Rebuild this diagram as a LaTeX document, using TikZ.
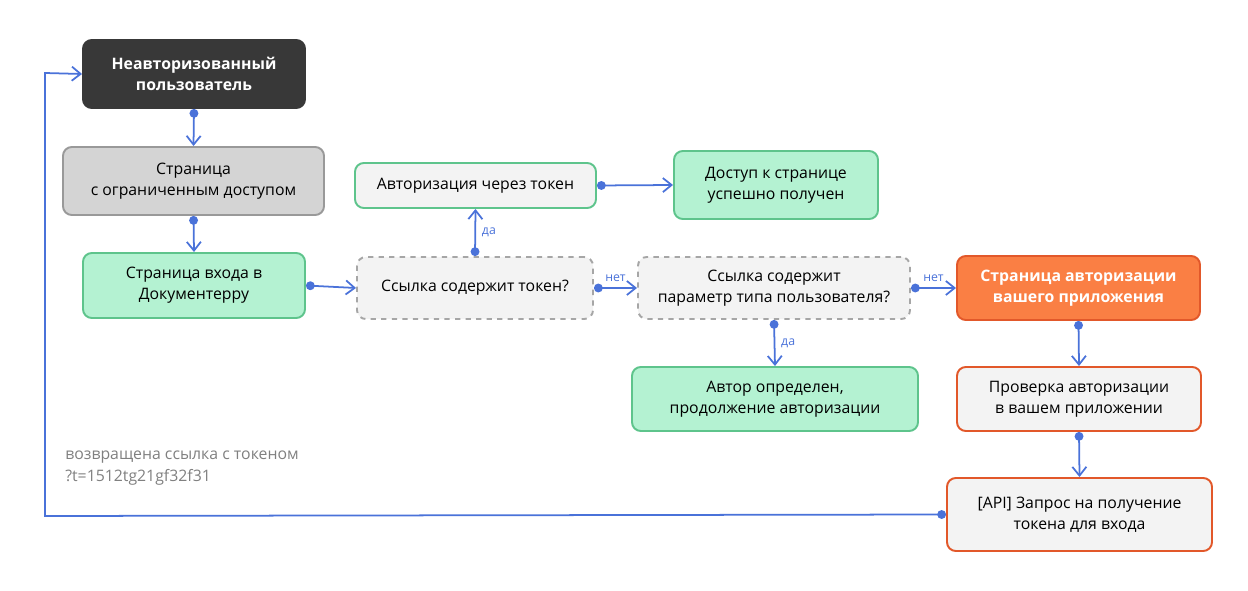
\documentclass[tikz,border=0pt]{standalone}
\usepackage{fontspec}
\setmainfont{Open Sans}
\usetikzlibrary{arrows.meta}
\definecolor{blu}{HTML}{4A72D9}
\definecolor{gfill}{HTML}{B4F2D2}
\definecolor{gline}{HTML}{5EC48C}
\definecolor{lfill}{HTML}{F3F3F3}
\definecolor{ofill}{HTML}{FA7F44}
\definecolor{oline}{HTML}{E2582A}
\begin{document}
\begin{tikzpicture}[x=0.02cm,y=-0.02cm,
 box/.style={draw,rounded corners=5pt,line width=1.1pt,align=center,font=\fontsize{9}{12}\selectfont,inner sep=0pt},
 grn/.style={box,fill=gfill,draw=gline},
 dsh/.style={box,fill=lfill,draw=gray!70,dashed},
 orng/.style={box,fill=lfill,draw=oline},
 con/.style={draw=blu,line width=1pt,{Circle[length=5pt]}-{Straight Barb[length=5pt,width=8pt]}},
 lab/.style={text=blu,font=\fontsize{7}{8}\selectfont}]
\useasboundingbox (0,0) rectangle (1248,591);
\def\bx#1#2#3#4#5#6#7{\node[#2,minimum width=(#5-#3)*0.02cm,minimum height=(#6-#4)*0.02cm] (#1) at ({(#3+#5)/2},{(#4+#6)/2}) {#7};}
\bx{u}{box,fill=black!78,draw=black!78,text=white,font=\fontsize{9}{12}\selectfont\bfseries}{83}{40}{305}{108}{Неавторизованный\\пользователь}
\bx{r}{box,fill=black!17,draw=black!40}{63}{147}{324}{215}{Страница\\с ограниченным доступом}
\bx{l}{grn}{83}{253}{305}{318}{Страница входа в\\Документерру}
\bx{at}{box,fill=lfill,draw=gline}{355}{163}{596}{208}{Авторизация через токен}
\bx{ac}{grn}{674}{151}{878}{219}{Доступ к странице\\успешно получен}
\bx{t}{dsh}{357}{257}{593}{319}{Ссылка содержит токен?}
\bx{p}{dsh}{638}{257}{910}{319}{Ссылка содержит\\параметр типа пользователя?}
\bx{ap}{box,fill=ofill,draw=oline,text=white,font=\fontsize{9}{12}\selectfont\bfseries}{957}{256}{1200}{320}{Страница авторизации\\вашего приложения}
\bx{ad}{grn}{632}{367}{918}{431}{Автор определен,\\продолжение авторизации}
\bx{ch}{orng}{957}{367}{1201}{431}{Проверка авторизации\\в вашем приложении}
\bx{api}{orng}{947}{478}{1212}{551}{[API] Запрос на получение\\токена для входа}
\node[anchor=north west,align=left,text=black!50,font=\fontsize{9}{12}\selectfont,inner sep=0pt] (txt) at (65,451) {возвращена ссылка с токеном\\?t=1512tg21gf32f31};
\draw[con] (u.south) -- (r.north);
\draw[con] (r.south) -- (l.north);
\draw[con] (l.east) -- (t.west);
\draw[con] (t.north) -- node[lab,right,pos=0.5]{да} (at.south);
\draw[con] (at.east) -- (ac.west);
\draw[con] (t.east) -- node[lab,above]{нет} (p.west);
\draw[con] (p.east) -- node[lab,above]{нет} (ap.west);
\draw[con] (p.south) -- node[lab,right]{да} (ad.north);
\draw[con] (ap.south) -- (ch.north);
\draw[con] (ch.south) -- (api.north);
\draw[con] (api.west) -- (45,516) -- (45,73) -- (u.west);
\end{tikzpicture}
\end{document}
